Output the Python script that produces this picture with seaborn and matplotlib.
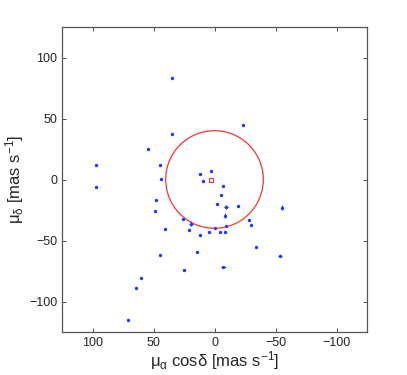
import numpy as np
import pandas as pd
import seaborn as sns
import matplotlib
matplotlib.use("Agg")
import matplotlib.pyplot as plt
from matplotlib.patches import Circle

# proper motions [mas/s]
pm_ra = [34.8, -23.6, 34.5, 54.5, 97.0, 97.0, 44.7, 44.1, 11.5, 2.7,
         9.3, -6.6, -5.5, -2.2, -9.3, -19.5, -55.3, 48.2, 49.0, 26.0,
         19.5, 20.5, 40.5, 11.5, 4.1, -0.3, -4.4, -8.8, -9.6, -8.8,
         -28.2, -29.6, -33.7, 44.7, 14.5, 24.7, -7.1, -53.7, 60.0, 64.4,
         71.0]
pm_dec = [82.8, 44.8, 36.9, 25.1, 12.0, -6.3, 11.7, 0.3, 4.1, 6.6,
          -1.4, -5.7, -12.8, -20.2, -22.7, -22.1, -23.0, -17.2, -25.7, -32.5,
          -36.1, -41.3, -40.2, -45.9, -43.2, -39.9, -43.2, -43.2, -38.5, -29.8,
          -32.8, -37.7, -55.7, -61.7, -59.3, -74.3, -71.9, -62.6, -80.6, -89.3,
          -115.0]
err_ra = [0.8, 0.8, 0.8, 0.5, 0.5, 0.5, 0.5, 0.5, 0.8, 0.5,
          0.5, 0.5, 0.5, 0.5, 1.8, 0.5, 0.8, 0.5, 0.5, 0.8,
          1.8, 0.5, 0.5, 0.5, 0.5, 0.8, 0.5, 0.8, 0.8, 0.5,
          0.5, 0.5, 0.5, 0.8, 0.5, 0.5, 2.0, 2.0, 0.5, 0.5,
          0.5]
err_dec = [0.5, 1.0, 0.8, 0.5, 0.5, 0.5, 0.5, 0.5, 0.8, 0.5,
           0.5, 0.5, 0.5, 0.5, 1.8, 0.5, 2.2, 0.5, 0.5, 0.8,
           1.8, 0.5, 0.5, 0.5, 0.5, 0.5, 0.5, 0.5, 0.8, 2.0,
           0.5, 0.8, 0.5, 0.5, 0.5, 0.5, 1.0, 0.8, 0.5, 0.5,
           0.5]

# cluster mean motion and selection radius
center_ra, center_dec = 2.7, -0.3
radius = 40.0

ticks = [-100, -50, 0, 50, 100]

df = pd.DataFrame({"ra": pm_ra, "dec": pm_dec, "era": err_ra, "edec": err_dec})

sns.set_style("ticks")
plt.rcParams["font.family"] = ["Liberation Sans", "DejaVu Sans"]
plt.rcParams["mathtext.fontset"] = "custom"
plt.rcParams["mathtext.rm"] = "Liberation Sans"
plt.rcParams["mathtext.it"] = "Liberation Sans"

fig = plt.figure(figsize=(4.07, 3.75), dpi=100)
ax = fig.add_axes([62 / 407, 1 - 332 / 375, 305 / 407, 305 / 375])

ax.errorbar(df["ra"], df["dec"], xerr=df["era"], yerr=df["edec"],
            fmt="none", ecolor="#1a3cff", elinewidth=0.8, capsize=0)
sns.scatterplot(data=df, x="ra", y="dec", ax=ax, color="#1a3cff",
                s=6, linewidth=0, marker="o")

ax.add_patch(Circle((0, 0), radius, fill=False, edgecolor="#ff3333", lw=0.9))
ax.plot([center_ra], [center_dec], marker="s", ms=3, mfc="none",
        mec="#ff3333", mew=0.8, ls="none")

ax.set_xlim(125, -125)
ax.set_ylim(-125, 125)
ax.set_xticks(ticks)
ax.set_yticks(ticks)
ax.tick_params(direction="in", top=True, right=True, length=3,
               labelsize=9, width=0.6, color="#333333")
for s in ax.spines.values():
    s.set_linewidth(0.9)
    s.set_color("#555555")

ax.set_xlabel(r"$\mu_\alpha$ cos$\delta$ [mas s$^{-1}$]", fontsize=12, labelpad=0)
ax.set_ylabel(r"$\mu_\delta$ [mas s$^{-1}$]", fontsize=12, labelpad=2)

fig.savefig("out.png", dpi=100)
